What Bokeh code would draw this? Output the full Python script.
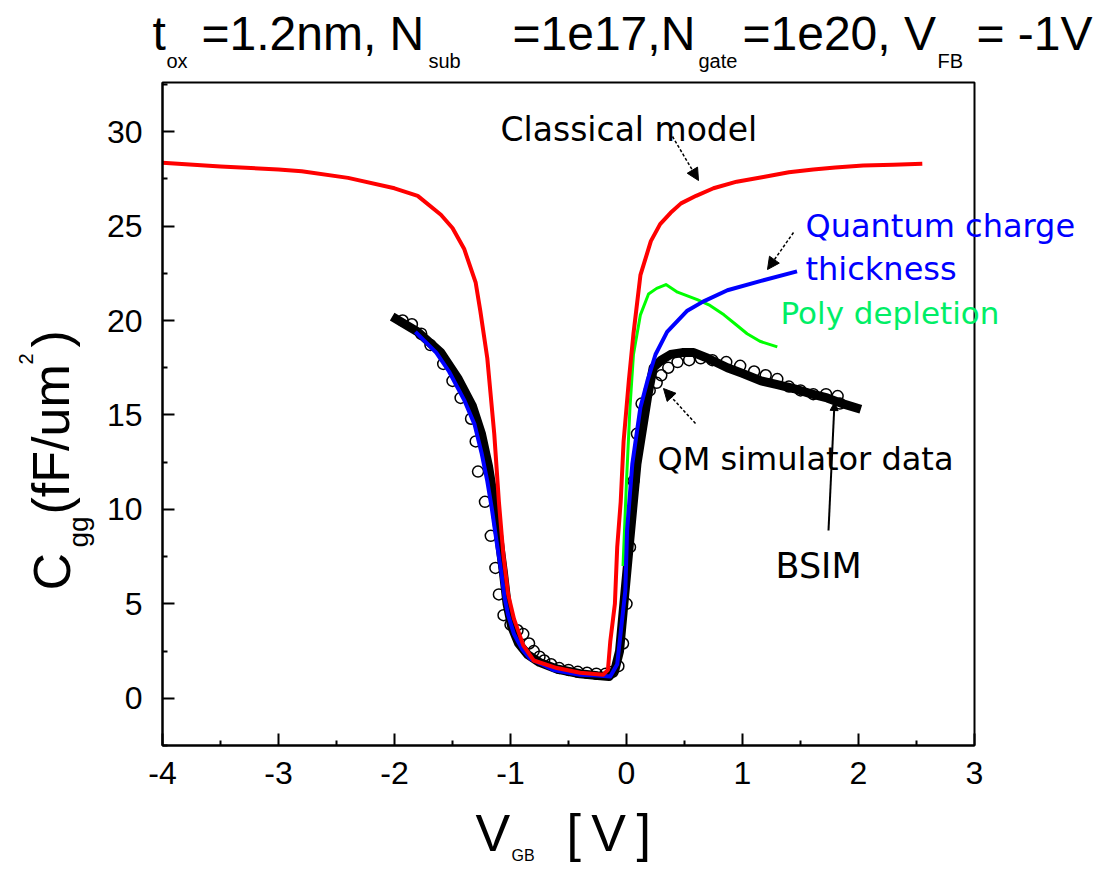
import math
from bokeh.plotting import figure
from bokeh.models import Label, Arrow, NormalHead, FixedTicker, Range1d, BoxAnnotation
from bokeh.embed import file_html
from bokeh.resources import INLINE

# ---------------- data ----------------
classical_v = [-4.0, -3.5, -3.0, -2.8, -2.4, -2.0, -1.8, -1.6, -1.5, -1.4, -1.3, -1.26, -1.2, -1.14,
               -1.1, -1.06, -1.02, -0.97, -0.89, -0.8, -0.6, -0.4, -0.2, -0.16, -0.14, -0.1, -0.08,
               -0.05, -0.025, 0.02, 0.06, 0.12, 0.21, 0.29, 0.38, 0.47, 0.6, 0.75, 0.95, 1.18, 1.4,
               1.61, 1.8, 2.04, 2.3, 2.55]
classical_c = [28.35, 28.15, 28.0, 27.9, 27.55, 27.0, 26.6, 25.6, 24.9, 23.8, 22.0, 20.5, 18.0, 14.0,
               10.4, 7.5, 5.5, 4.2, 2.8, 2.0, 1.6, 1.35, 1.25, 1.5, 3.0, 5.0, 8.0,
               10.4, 13.6, 16.8, 19.3, 22.4, 24.2, 25.1, 25.7, 26.2, 26.6, 27.0, 27.35, 27.6, 27.85,
               28.0, 28.1, 28.2, 28.25, 28.3]

poly_v = [-0.03, 0.0, 0.03, 0.06, 0.12, 0.19, 0.26, 0.34, 0.44, 0.61, 0.72, 0.84, 0.94, 1.04, 1.15, 1.30]
poly_c = [7.0, 11.5, 15.4, 18.2, 20.3, 21.4, 21.7, 21.9, 21.5, 21.1, 20.8, 20.3, 19.8, 19.3, 18.9, 18.6]

qct_v = [-1.82, -1.64, -1.53, -1.40, -1.31, -1.25, -1.20, -1.16, -1.12, -1.08, -1.05, -1.02, -0.97,
         -0.9, -0.83, -0.73, -0.63, -0.5, -0.4, -0.25, -0.14, -0.08, -0.05, -0.01, 0.005, 0.05,
         0.12, 0.18, 0.25, 0.35, 0.52, 0.66, 0.87, 1.16, 1.47]
qct_c = [19.4, 18.3, 17.3, 15.8, 14.5, 13.0, 11.5, 10.0, 8.3, 6.7, 5.3, 4.4, 3.4,
         2.6, 2.1, 1.8, 1.5, 1.35, 1.25, 1.2, 1.15, 1.8, 3.5, 5.7, 8.9, 12.4,
         15.4, 16.8, 18.2, 19.4, 20.5, 21.0, 21.6, 22.1, 22.6]

bsim_v = [-2.02, -1.8, -1.6, -1.45, -1.33, -1.25, -1.19, -1.14, -1.10, -1.06, -1.03, -0.99, -0.93,
          -0.85, -0.75, -0.6, -0.4, -0.25, -0.15, -0.1, -0.06, -0.03, 0.0, 0.03, 0.09, 0.18,
          0.23, 0.3, 0.38, 0.48, 0.58, 0.7, 0.87, 1.0, 1.16, 1.3, 1.44, 1.6, 1.73, 1.86, 2.02]
bsim_c = [20.2, 19.4, 18.3, 16.9, 15.5, 14.0, 12.3, 10.4, 8.5, 6.6, 5.0, 3.8, 2.9,
          2.3, 1.9, 1.55, 1.3, 1.2, 1.15, 1.5, 2.5, 4.5, 6.5, 8.5, 12.4, 15.9,
          17.5, 17.9, 18.2, 18.3, 18.3, 18.0, 17.5, 17.2, 16.8, 16.6, 16.4, 16.1, 15.9, 15.6, 15.3]

qm_v = [-1.93, -1.85, -1.77, -1.69, -1.58, -1.5, -1.43, -1.34, -1.30, -1.28,
        -1.22, -1.17, -1.13, -1.10, -1.06, -1.0, -0.94, -0.89, -0.84, -0.80,
        -0.75, -0.71, -0.65, -0.58, -0.5, -0.42, -0.34, -0.26, -0.18, -0.12,
        -0.07, -0.03, 0.0, 0.03, 0.06, 0.09, 0.13, 0.2, 0.26, 0.3,
        0.36, 0.44, 0.54, 0.64, 0.74, 0.86, 0.98, 1.1, 1.2, 1.3,
        1.4, 1.5, 1.61, 1.72, 1.82, 1.84]
qm_c = [20.0, 19.8, 19.3, 18.7, 17.7, 16.8, 15.9, 14.8, 13.6, 12.0,
        10.4, 8.6, 6.9, 5.5, 4.4, 3.9, 3.6, 3.4, 2.9, 2.5,
        2.2, 2.0, 1.8, 1.6, 1.5, 1.4, 1.35, 1.3, 1.3, 1.4,
        1.7, 2.9, 5.0, 8.0, 11.5, 14.0, 15.6, 16.3, 16.7, 17.1,
        17.5, 17.8, 17.9, 18.0, 17.9, 17.8, 17.6, 17.3, 17.1, 16.9,
        16.5, 16.3, 16.1, 16.1, 16.0, 15.6]

x_ticks = [-4, -3, -2, -1, 0, 1, 2, 3]
x_minor = [-3.5, -2.5, -1.5, -0.5, 0.5, 1.5, 2.5]
y_ticks = [0, 5, 10, 15, 20, 25, 30]
y_minor = [-2.5, 2.5, 7.5, 12.5, 17.5, 22.5, 27.5, 32.5]

# ---------------- layout ----------------
W, H = 1104, 870                      # canvas size (px)
BOX_L, BOX_R, BOX_T, BOX_B = 162, 974, 82, 745   # plot box in canvas px
X0, X1 = -4.0, 3.0                    # box data limits
Y0, Y1 = -2.5, 32.6
SX = (BOX_R - BOX_L) / (X1 - X0)
SY = (BOX_B - BOX_T) / (Y1 - Y0)
XL = X0 - BOX_L / SX
XR = X1 + (W - BOX_R) / SX
YT = Y1 + BOX_T / SY
YB = Y0 - (H - BOX_B) / SY


def dx(px):
    """canvas pixel -> data x (for annotation placement)"""
    return XL + px / SX


def dy(py):
    """canvas pixel -> data y (for annotation placement)"""
    return YT - py / SY


p = figure(frame_width=W, frame_height=H,
           x_range=Range1d(XL, XR), y_range=Range1d(YB, YT),
           output_backend="svg", toolbar_location=None,
           min_border=0, min_border_left=0, min_border_right=0,
           min_border_top=0, min_border_bottom=0)
p.xgrid.visible = False
p.ygrid.visible = False
p.outline_line_color = None
p.background_fill_color = "white"
p.border_fill_color = "white"

for ax in (p.xaxis[0], p.yaxis[0]):
    ax.axis_line_width = 2
    ax.major_tick_line_width = 2
    ax.minor_tick_line_width = 2
    ax.major_tick_in = 12
    ax.major_tick_out = 0
    ax.minor_tick_in = 5
    ax.minor_tick_out = 0
    ax.major_label_text_font = "Liberation Sans"
    ax.major_label_text_font_size = "32px"
    ax.major_label_text_color = "black"
    ax.axis_line_color = "black"
    ax.major_tick_line_color = "black"
    ax.minor_tick_line_color = "black"

p.xaxis.fixed_location = Y0
p.yaxis.fixed_location = X0
p.xaxis.bounds = (X0, X1)
p.yaxis.bounds = (Y0, Y1)
p.xaxis.ticker = FixedTicker(ticks=x_ticks, minor_ticks=x_minor)
p.yaxis.ticker = FixedTicker(ticks=y_ticks, minor_ticks=y_minor)
p.xaxis.major_label_overrides = {t: str(t) for t in x_ticks}
p.yaxis.major_label_overrides = {t: str(t) for t in y_ticks}
p.xaxis.major_label_standoff = 16
p.yaxis.major_label_standoff = 20

# plot box (top / right edges)
p.add_layout(BoxAnnotation(left=X0, right=X1, bottom=Y0, top=Y1,
                           fill_alpha=0, fill_color=None,
                           line_color="black", line_width=2, line_alpha=1))

# ---------------- curves ----------------
p.scatter(qm_v, qm_c, marker="circle", size=11, fill_color=None,
          line_color="black", line_width=1.5)
p.line(bsim_v, bsim_c, line_color="black", line_width=9, line_join="round")
p.line(poly_v, poly_c, line_color="#00ff00", line_width=3, line_join="round")
p.line(qct_v, qct_c, line_color="#0000ff", line_width=4, line_join="round")
p.line(classical_v, classical_c, line_color="#ff0000", line_width=4, line_join="round")

# ---------------- annotations ----------------
ann_font = "DejaVu Sans"


def add_text(txt, px, py, size, color="black", font=ann_font, align="left",
             baseline="middle", angle=0.0):
    p.add_layout(Label(x=dx(px), y=dy(py), text=txt, text_font=font,
                       text_font_size=size, text_color=color, text_align=align,
                       text_baseline=baseline, angle=angle))


add_text("Classical model", 500, 129, "33px")
add_text("Quantum charge", 805, 225, "32px", color="#0000ff")
add_text("thickness", 805, 268, "32px", color="#0000ff")
add_text("Poly depletion", 780, 312, "31px", color="#00ee66")
add_text("QM simulator data", 657, 458, "32px")
add_text("BSIM", 775, 565, "35px")


def add_arrow(x0, y0, x1, y1, dash="3 2", head=12, lw=1.5):
    p.add_layout(Arrow(end=NormalHead(size=head, fill_color="black", line_color="black",
                                      line_width=1),
                       x_start=dx(x0), y_start=dy(y0), x_end=dx(x1), y_end=dy(y1),
                       line_color="black", line_width=lw, line_dash=dash))


add_arrow(672, 136, 698, 180)
add_arrow(793, 232, 767, 269)
add_arrow(695, 423, 663, 388)
add_arrow(828, 530, 834, 402, dash="solid", head=8, lw=2)

# ---------------- title (with subscripts) ----------------
tfont = "Liberation Sans"
tm = 33     # vertical middle of the main title text (px)
sm = 60     # vertical middle of the subscripts
add_text("t", 152, tm, "48px", font=tfont)
add_text("ox", 166, sm, "20px", font=tfont)
add_text("=1.2nm, N", 201, tm, "48px", font=tfont)
add_text("sub", 428, sm, "20px", font=tfont)
add_text("=1e17,N", 512, tm, "48px", font=tfont)
add_text("gate", 698, sm, "20px", font=tfont)
add_text("=1e20, V", 742, tm, "48px", font=tfont)
add_text("FB", 937, sm, "20px", font=tfont)
add_text("= -1V", 976, tm, "48px", font=tfont)

# ---------------- axis titles ----------------
add_text("V", 475, 832, "52px", font=tfont)
add_text("GB", 511, 855, "16px", font=tfont)
add_text("[\u2009V\u2009]", 566, 832, "52px", font=tfont)

rot = math.pi / 2
add_text("C", 51, 590, "52px", font=tfont, angle=rot)
add_text("gg", 78, 547, "28px", font=tfont, angle=rot)
add_text("(fF/um", 50, 514, "52px", font=tfont, angle=rot)
add_text("2", 25, 364, "20px", font=tfont, angle=rot)
add_text(")", 50, 347, "52px", font=tfont, angle=rot)

open("out.html", "w").write(file_html(p, INLINE))
